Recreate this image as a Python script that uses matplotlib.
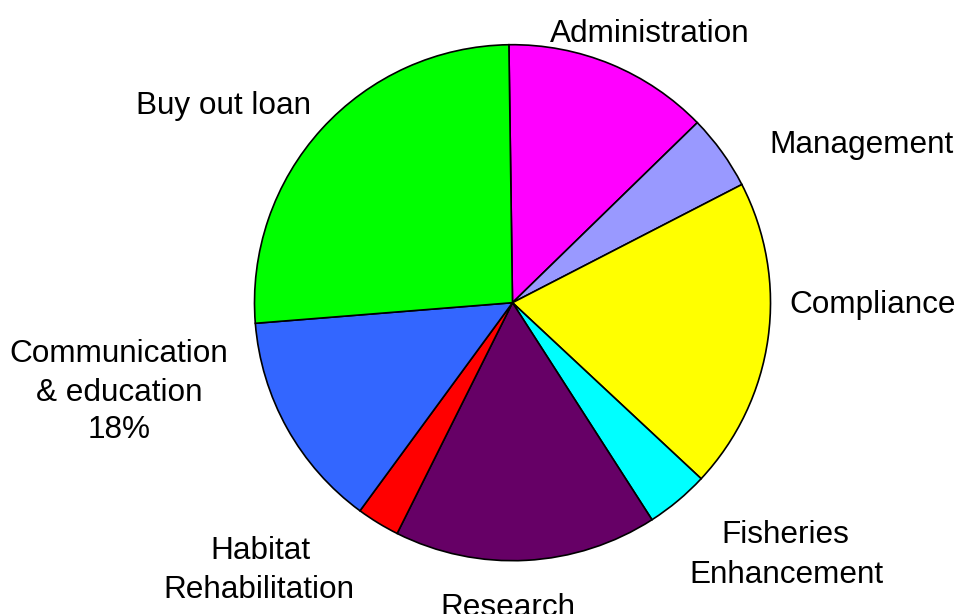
import matplotlib
matplotlib.use("Agg")
import matplotlib.pyplot as plt

# budget shares, clockwise from 12 o'clock
categories = ["Administration", "Management", "Compliance", "Fisheries Enhancement",
              "Research", "Habitat Rehabilitation", "Communication & education", "Buy out loan"]
shares = [12.93, 4.72, 19.52, 3.96, 16.47, 2.69, 13.66, 26.05]
colors = ["#FF00FF", "#9999FF", "#FFFF00", "#00FFFF",
          "#660066", "#FF0000", "#3366FF", "#00FF00"]

# label text lines and where they sit (pixel x centre, baseline y from top)
label_lines = [
    ("Administration", 650, 42),
    ("Management", 861, 153),
    ("Compliance", 873, 313),
    ("Fisheries", 785, 543),
    ("Enhancement", 786, 583),
    ("Research", 508, 616),
    ("Habitat", 260, 559),
    ("Rehabilitation", 259, 598),
    ("Communication", 119, 362),
    ("& education", 119, 401),
    ("18%", 119, 438),
    ("Buy out loan", 224, 114),
]

W, H = 960, 614
fig = plt.figure(figsize=(W / 100, H / 100), dpi=100)
ax = fig.add_axes([0, 0, 1, 1])

ax.pie(shares, colors=colors, startangle=90.8, counterclock=False,
       center=(512.5, H - 302.7), radius=258, frame=True,
       wedgeprops=dict(edgecolor="black", linewidth=1.2))
ax.set_xlim(0, W)
ax.set_ylim(0, H)
ax.axis("off")

for txt, x, y in label_lines:
    ax.text(x, H - y, txt, ha="center", va="baseline",
            fontsize=22.7, family=["Liberation Sans", "DejaVu Sans"], color="black")

fig.savefig("out.png", dpi=100, facecolor="white")
plt.close(fig)
